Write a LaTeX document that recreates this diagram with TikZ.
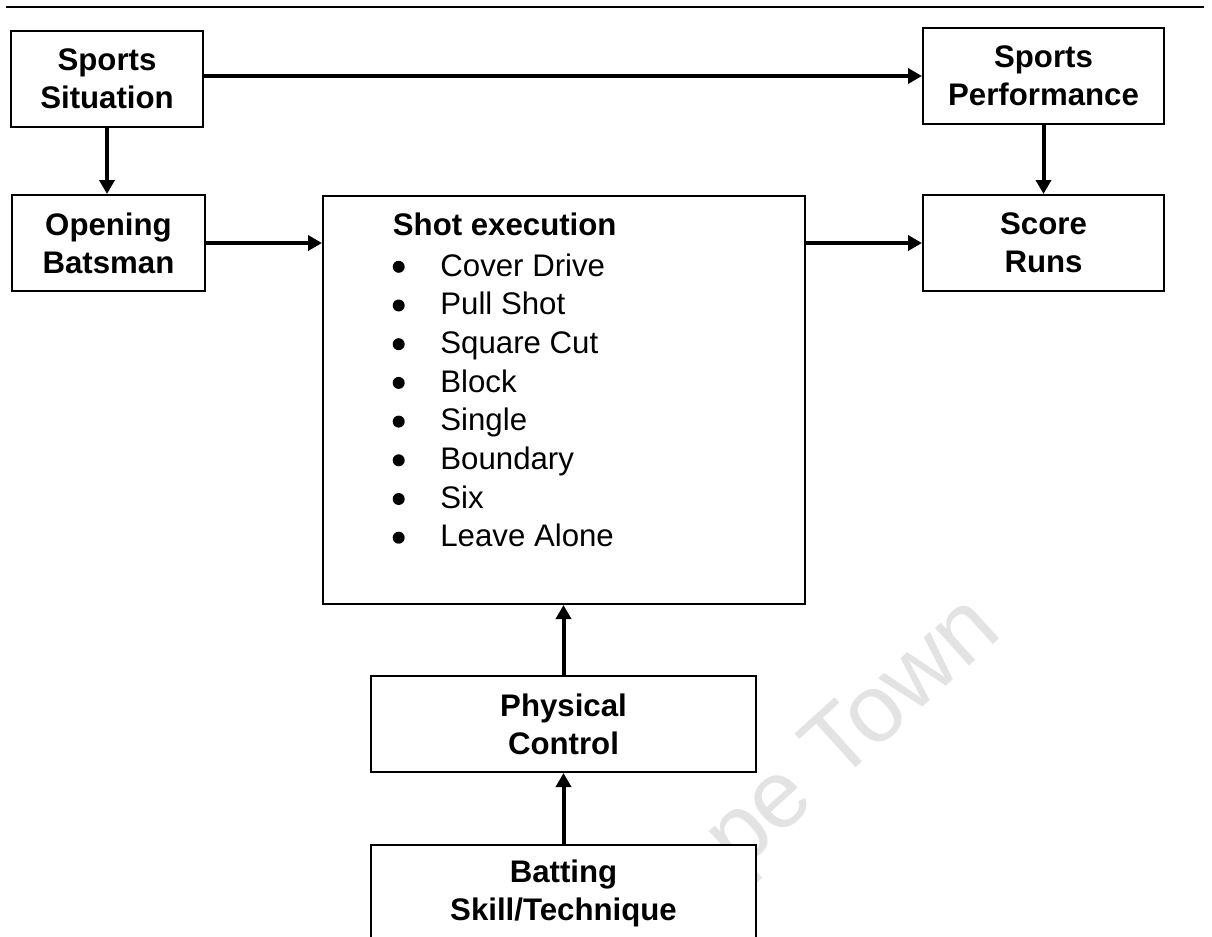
\documentclass[tikz,border=0pt]{standalone}
\usepackage{fontspec}
\setmainfont{Liberation Sans}
\usetikzlibrary{arrows.meta}

\begin{document}
\begin{tikzpicture}[x=0.5pt,y=-0.5pt,
  box/.style={draw=black, line width=1pt, fill=white, inner sep=0pt,
    align=center, font=\bfseries\fontsize{15.6}{19}\selectfont},
  flow/.style={line width=2pt, -{Triangle[length=7pt,width=7.5pt]}},
  listhead/.style={anchor=base west, inner sep=0pt,
    font=\bfseries\fontsize{15.6}{19}\selectfont},
  listitem/.style={anchor=base west, inner sep=0pt,
    font=\fontsize{15.6}{19}\selectfont},
  bulletdot/.style={circle, fill=black, inner sep=0pt, minimum size=6pt},
  watermark/.style={text=black!11, inner sep=0pt,
    font=\fontsize{48}{52}\selectfont}]

\useasboundingbox (0,0) rectangle (1212,937);
\clip (0,0) rectangle (1212,937);

% rule across the top of the page
\draw[line width=1.2pt] (6,6.7) -- (1204,6.7);

% faint watermark lettering behind the boxes
\node[watermark, rotate=42, anchor=base west] (wm) at (738,874) {pe Town};

% boxes
\node[box, minimum width=96pt,    minimum height=48pt]  (ss)   at (107,79)      {Sports\\Situation};
\node[box, minimum width=120.5pt, minimum height=48pt]  (sp)   at (1043.5,76)   {Sports\\Performance};
\node[box, minimum width=96.5pt,  minimum height=48pt]  (ob)   at (108.5,243)   {Opening\\Batsman};
\node[box, minimum width=241pt,   minimum height=204pt] (shot) at (564,400)     {};
\node[box, minimum width=120.5pt, minimum height=48pt]  (sr)   at (1043.5,243)  {Score\\Runs};
\node[box, minimum width=192.5pt, minimum height=48pt]  (pc)   at (563.5,724)   {Physical\\Control};
\node[box, minimum width=192.5pt, minimum height=48pt]  (bt)   at (563.5,893)   {Batting\\Skill/Technique};

% list of shots inside the execution box
\node[listhead] (shothead) at (392.5,235) {Shot execution};
\foreach \t [count=\i from 0] in {Cover Drive, Pull Shot, Square Cut, Block,
    Single, Boundary, Six, Leave Alone} {
  \node[bulletdot, name=bul\i] at (398.7,{266.8+38.7*\i}) {};
  \node[listitem, name=item\i] at (440,{276+38.7*\i}) {\t};
}

% connectors
\draw[flow] (ss.east |- sp.west) -- (sp.west);
\draw[flow] (ss.south) -- (ss.south |- ob.north);
\draw[flow] (ob.east) -- (ob.east -| shot.west);
\draw[flow] (sr.west -| shot.east) -- (sr.west);
\draw[flow] (sp.south) -- (sr.north);
\draw[flow] (pc.north) -- (pc.north |- shot.south);
\draw[flow] (bt.north) -- (pc.south);

\end{tikzpicture}
\end{document}
